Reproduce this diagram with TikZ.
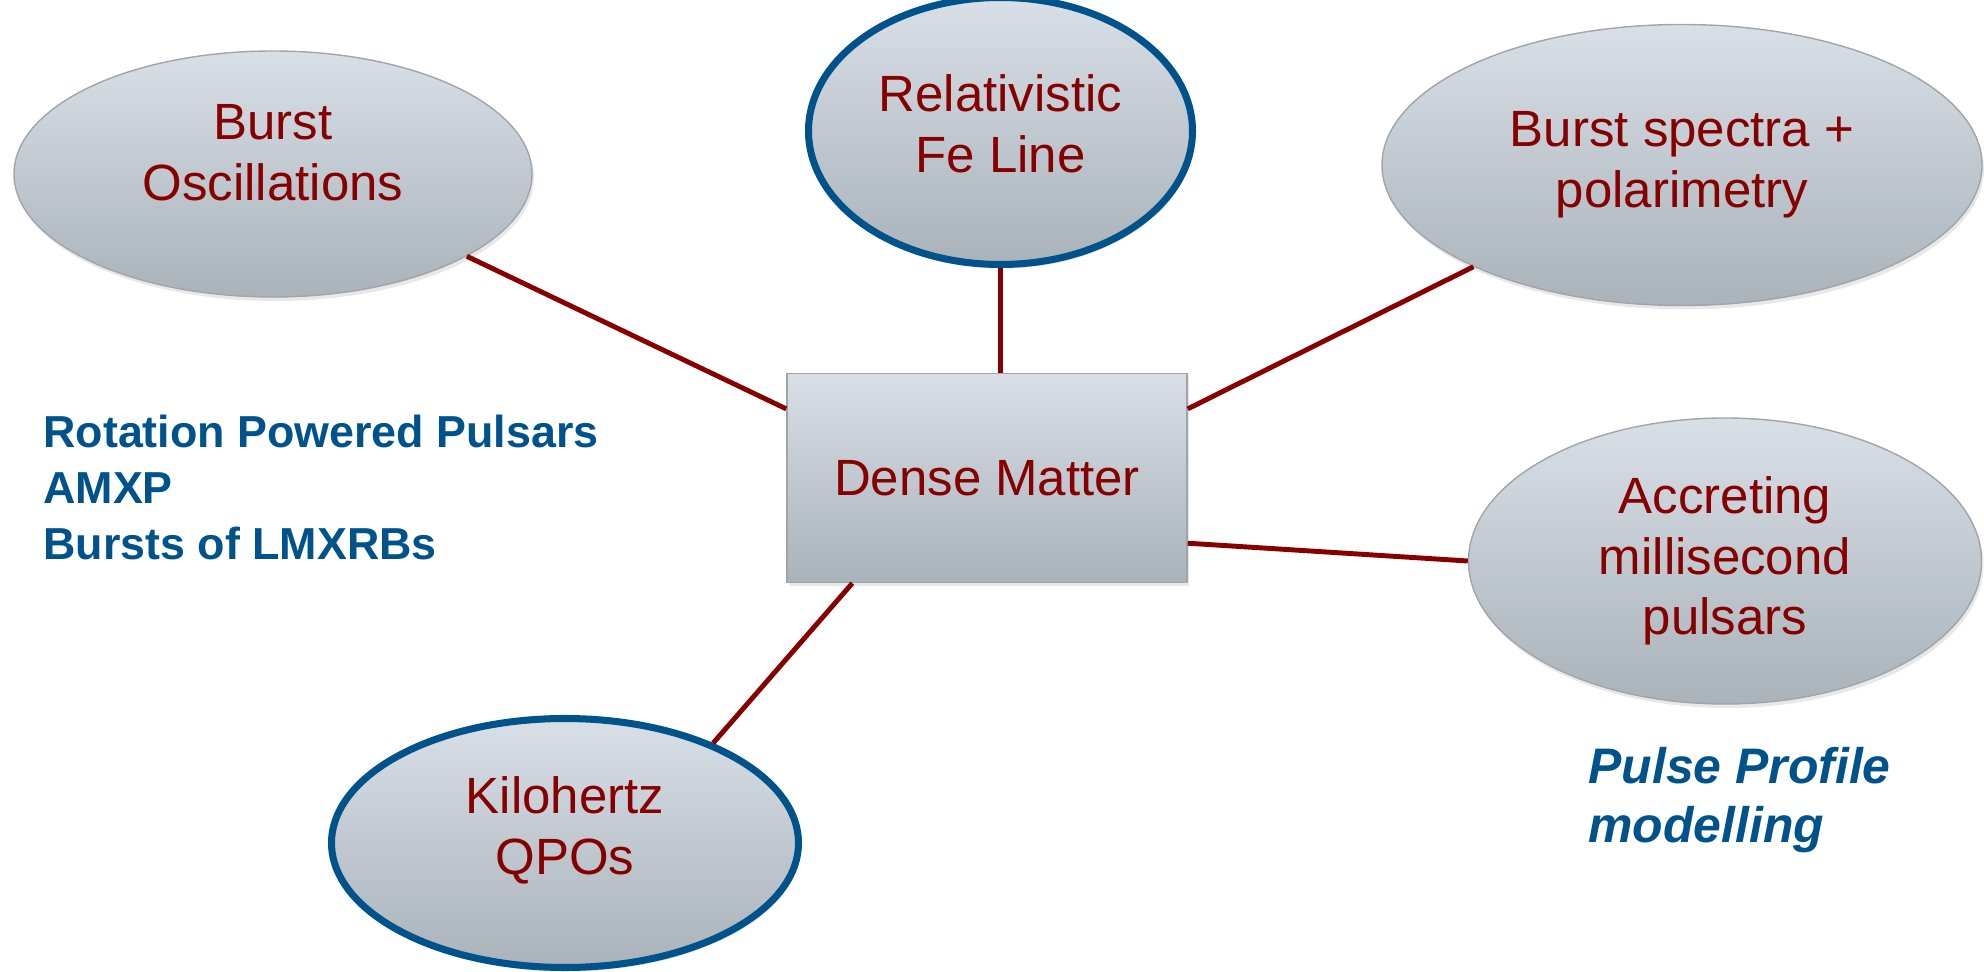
\documentclass[tikz,border=0pt]{standalone}
\usepackage{fontspec}
\setmainfont{Liberation Sans}
\usetikzlibrary{shapes.geometric,shadows}

\definecolor{topicred}{RGB}{134,0,0}
\definecolor{pulsarblue}{RGB}{0,83,138}
\definecolor{bubbletop}{RGB}{216,223,230}
\definecolor{bubblebot}{RGB}{170,178,186}
\definecolor{bubbleedge}{RGB}{160,165,170}

\tikzset{
  softshadow/.style={drop shadow={opacity=0.18, shadow xshift=0.04cm, shadow yshift=-0.08cm}},
  hub/.style={rectangle, draw=bubbleedge, line width=0.8pt, top color=bubbletop, bottom color=bubblebot,
    text=topicred, font=\fontsize{29}{35}\selectfont, align=center, inner sep=0pt, softshadow},
  bubble/.style={ellipse, draw=bubbleedge, line width=0.8pt, top color=bubbletop, bottom color=bubblebot,
    text=topicred, font=\fontsize{29}{34.5}\selectfont, align=center, inner sep=0pt, softshadow},
  keybubble/.style={bubble, draw=pulsarblue, line width=4pt},
  link/.style={draw=topicred, line width=2.8pt},
  source/.style={text=pulsarblue, align=left, inner sep=0pt, anchor=north west}
}

\begin{document}
\begin{tikzpicture}
\useasboundingbox (0,0) rectangle (39.68,-19.44);
% Centre
\node[hub, minimum width=8cm, minimum height=4.18cm] (dm) at (19.74,-9.56) {Dense Matter};
% Topics
\node[bubble, minimum width=10.36cm, minimum height=4.92cm, text depth=0.85cm] (bo) at (5.46,-3.48) {Burst\\Oscillations};
\node[keybubble, minimum width=7.68cm, minimum height=5.34cm, text depth=0.3cm] (fe) at (20.01,-2.62) {Relativistic\\Fe Line};
\node[bubble, minimum width=12.0cm, minimum height=5.62cm] (bs) at (33.64,-3.3) {Burst spectra +\\polarimetry};
\node[bubble, minimum width=10.26cm, minimum height=5.72cm] (am) at (34.5,-11.22) {Accreting\\millisecond\\pulsars};
\node[keybubble, minimum width=9.34cm, minimum height=4.98cm, text depth=0.7cm] (kq) at (11.3,-16.86) {Kilohertz\\QPOs};
% Links
\draw[link] (bo.337) -- (dm.161);
\draw[link] (fe.south) -- (fe.south |- dm.north);
\draw[link] (bs.206) -- (dm.19);
\draw[link] (am.west) -- (dm.342);
\draw[link] (kq.34) -- (dm.218);
% Sources
\node[source, font=\fontsize{25.5}{31.8}\selectfont\bfseries] (src) at (0.86,-8.3)
  {Rotation Powered Pulsars\\AMXP\\Bursts of LMXRBs};
\node[source, font=\fontsize{28.4}{33.5}\selectfont\bfseries\itshape] (ppm) at (31.76,-14.94)
  {Pulse Profile\\modelling};
\end{tikzpicture}
\end{document}
